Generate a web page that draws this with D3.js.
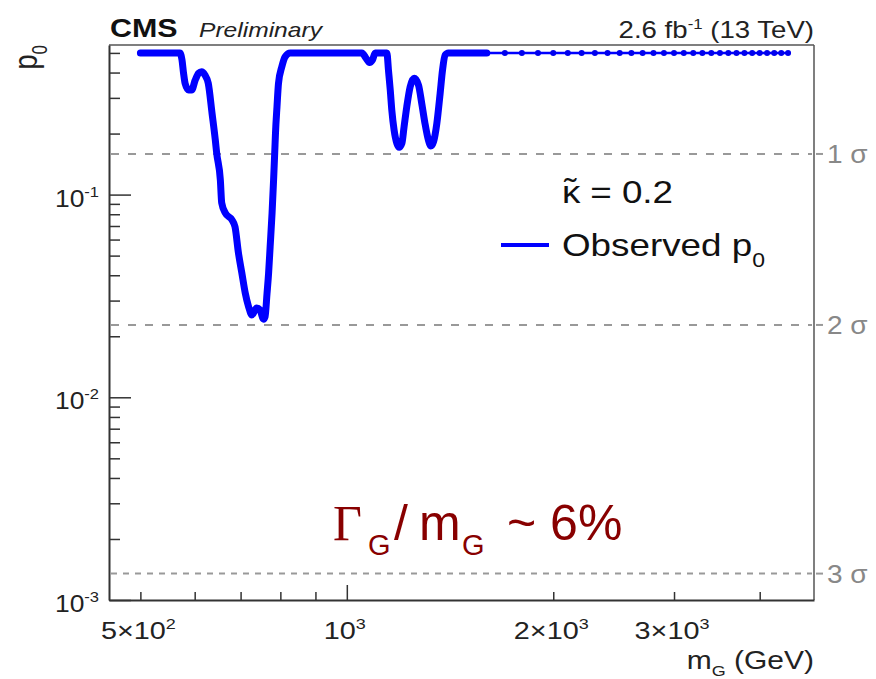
<!DOCTYPE html>
<html>
<head>
<meta charset="utf-8">
<title>p0 scan</title>
<script src="https://d3js.org/d3.v7.min.js"></script>
<style>
  body { margin: 0; background: #fff; }
  svg { display: block; font-family: "Liberation Sans", Arial, sans-serif; }
  .axis path { stroke: #333; stroke-width: 2; }
  .axis line { stroke: #333; stroke-width: 1.5; }
</style>
</head>
<body>
<svg id="chart" width="876" height="679"></svg>
<script>

// -- observed p0, fine mass steps (GeV)
const massFine = [500, 571, 575, 578, 581, 588, 594, 601, 608, 614,
                  621, 628, 636, 643, 646, 654, 657, 665, 680, 687,
                  695, 703, 711, 719, 727, 739, 747, 756, 760, 765,
                  769, 773, 778, 782, 785, 787, 791, 795, 804, 813,
                  827, 1052, 1067, 1079, 1090, 1100, 1144, 1150, 1157, 1163,
                  1172, 1183, 1192, 1203, 1212, 1223, 1237, 1254, 1272, 1286,
                  1300, 1315, 1326, 1338, 1353, 1368, 1379, 1391, 1406, 1600];
const p0Fine   = [0.5, 0.5, 0.461, 0.397, 0.354, 0.328, 0.328, 0.367, 0.397, 0.404,
                  0.389, 0.354, 0.252, 0.186, 0.16, 0.118, 0.091, 0.0811, 0.075, 0.0694,
                  0.0515, 0.041, 0.0327, 0.028, 0.0255, 0.0276, 0.027, 0.0243, 0.025, 0.0326,
                  0.0409, 0.0553, 0.0809, 0.118, 0.161, 0.2007, 0.2715, 0.354, 0.4276, 0.479,
                  0.5, 0.5, 0.47, 0.448, 0.461, 0.5, 0.5, 0.412, 0.328, 0.2615,
                  0.2084, 0.179, 0.1712, 0.179, 0.2163, 0.2715, 0.3406, 0.3748, 0.3473, 0.282,
                  0.2248, 0.186, 0.1737, 0.1824, 0.2248, 0.316, 0.412, 0.488, 0.5, 0.5];

// -- observed p0, 100 GeV steps
const massCoarse = [1600, 1700, 1800, 1900, 2000, 2100, 2200, 2300, 2400, 2500,
                    2600, 2700, 2800, 2900, 3000, 3100, 3200, 3300, 3400, 3500,
                    3600, 3700, 3800, 3900, 4000, 4100, 4200, 4300, 4400];
const p0Coarse   = [0.5, 0.5, 0.5, 0.5, 0.5, 0.5, 0.5, 0.5, 0.5, 0.5,
                    0.5, 0.5, 0.5, 0.5, 0.5, 0.5, 0.5, 0.5, 0.5, 0.5,
                    0.5, 0.5, 0.5, 0.5, 0.5, 0.5, 0.5, 0.5, 0.5];

// -- significance lines
const sigmaP     = [0.158655, 0.02275, 0.0013499];
const sigmaNames = ["1 σ", "2 σ", "3 σ"];

// -- tick labels
const xLabelVals = [500, 1000, 2000, 3000];
const xLabelMant = ["5×10", "10", "2×10", "3×10"];
const xLabelExp  = ["2", "3", "3", "3"];
const yLabelVals = [0.1, 0.01, 0.001];
const yLabelExp  = ["-1", "-2", "-3"];

const svg = d3.select("#chart");
const padLeft = 109, padRight = 814, padTop = 45, padBottom = 600;

const x = d3.scaleLog().domain([450, 4800]).range([padLeft, padRight]);
const y = d3.scaleLog().domain([1e-3, 0.547]).range([padBottom, padTop]);

// texte etire horizontalement (le graphique d'origine est etire)
function stretched(px, py, sx, anchor) {
  return svg.append("text")
    .attr("transform", `translate(${px},${py}) scale(${sx},1)`)
    .attr("text-anchor", anchor || "start");
}

// -- cadre
svg.append("line").attr("x1", padLeft).attr("x2", padRight).attr("y1", padTop).attr("y2", padTop)
  .attr("stroke", "#555").attr("stroke-width", 1.5);
svg.append("line").attr("x1", padRight).attr("x2", padRight).attr("y1", padTop).attr("y2", padBottom)
  .attr("stroke", "#555").attr("stroke-width", 1.5);

// -- lignes de significance
sigmaP.forEach(function(p, i) {
  svg.append("line")
    .attr("x1", padLeft + 2).attr("x2", padRight - 2)
    .attr("y1", y(p)).attr("y2", y(p))
    .attr("stroke", "#999").attr("stroke-width", 2)
    .attr("stroke-dasharray", i < 2 ? "8,9" : "6,6");
  svg.append("line")
    .attr("x1", padRight + 2).attr("x2", padRight + 9)
    .attr("y1", y(p)).attr("y2", y(p))
    .attr("stroke", "#999").attr("stroke-width", 2);
  stretched(padRight + 13, y(p) + 9, 1.12)
    .attr("font-size", 25).attr("fill", "#888")
    .text(sigmaNames[i]);
});

// -- axes
const xTicks = x.ticks();
svg.append("g").attr("class", "axis")
  .attr("transform", `translate(0,${padBottom})`)
  .call(d3.axisBottom(x).tickValues(xTicks.filter(d => d !== 1000))
        .tickSizeInner(-8).tickSizeOuter(0).tickFormat(""));
svg.append("g").attr("class", "axis")
  .attr("transform", `translate(0,${padBottom})`)
  .call(d3.axisBottom(x).tickValues([1000])
        .tickSizeInner(-15).tickSizeOuter(0).tickFormat(""))
  .select(".domain").remove();

const yTicks = y.ticks();
svg.append("g").attr("class", "axis")
  .attr("transform", `translate(${padLeft},0)`)
  .call(d3.axisLeft(y).tickValues(yTicks.filter(d => yLabelVals.indexOf(d) < 0))
        .tickSizeInner(-11).tickSizeOuter(0).tickFormat(""));
svg.append("g").attr("class", "axis")
  .attr("transform", `translate(${padLeft},0)`)
  .call(d3.axisLeft(y).tickValues(yLabelVals)
        .tickSizeInner(-22).tickSizeOuter(0).tickFormat(""))
  .select(".domain").remove();

xLabelVals.forEach(function(v, i) {
  const t = stretched(x(v) - 2, padBottom + 39, 1.2, "middle").attr("font-size", 24).attr("fill", "#222");
  t.append("tspan").text(xLabelMant[i]);
  t.append("tspan").attr("font-size", 15).attr("dy", -10).text(xLabelExp[i]);
});

yLabelVals.forEach(function(v, i) {
  const t = stretched(padLeft - 10, y(v) + 12, 1.1, "end").attr("font-size", 24).attr("fill", "#222");
  t.append("tspan").text("10");
  t.append("tspan").attr("font-size", 15).attr("dy", -10).text(yLabelExp[i]);
});

// -- titres des axes
const xt = stretched(padRight, 669, 1.2, "end").attr("font-size", 25).attr("fill", "#222");
xt.append("tspan").text("m");
xt.append("tspan").attr("font-size", 15).attr("dy", 7).text("G");
xt.append("tspan").attr("dy", -7).text(" (GeV)");

const yt = svg.append("text")
  .attr("transform", `translate(37,${padTop}) scale(1.25,1) rotate(-90)`)
  .attr("text-anchor", "end").attr("font-size", 27).attr("fill", "#222");
yt.append("tspan").text("p");
yt.append("tspan").attr("font-size", 17).attr("dy", 8).text("0");

// -- courbe observee
const line = d3.line()
  .x(d => x(d[0])).y(d => y(d[1]))
  .curve(d3.curveMonotoneX);

const fine = massFine.map((m, i) => [m, p0Fine[i]]);
const coarse = massCoarse.map((m, i) => [m, p0Coarse[i]]);

svg.append("path").datum(coarse)
  .attr("d", line).attr("fill", "none")
  .attr("stroke", "#0000ff").attr("stroke-width", 2.5);
svg.selectAll("circle.pt").data(coarse).enter().append("circle")
  .attr("class", "pt")
  .attr("cx", d => x(d[0])).attr("cy", d => y(d[1]))
  .attr("r", 3).attr("fill", "#0000ee");
svg.append("path").datum(fine)
  .attr("d", line).attr("fill", "none")
  .attr("stroke", "#0000ff").attr("stroke-width", 7)
  .attr("stroke-linejoin", "round").attr("stroke-linecap", "round");

// -- en-tete CMS
stretched(110, 37, 1.17).attr("font-size", 26).attr("font-weight", "bold").attr("fill", "#111").text("CMS");
stretched(199, 37, 1.2).attr("font-size", 20.5).attr("font-style", "italic").attr("fill", "#222").text("Preliminary");
const lumi = stretched(padRight, 38, 1.2, "end").attr("font-size", 23).attr("fill", "#222");
lumi.append("tspan").text("2.6 fb");
lumi.append("tspan").attr("font-size", 14).attr("dy", -9).text("-1");
lumi.append("tspan").attr("dy", 9).text(" (13 TeV)");

// -- legende
const kap = stretched(562, 203, 1.15).attr("font-size", 32).attr("fill", "#111");
kap.append("tspan").text("κ");
kap.append("tspan").attr("dx", -14).attr("dy", -2).text("\u02DC");
kap.append("tspan").attr("dx", 3).attr("dy", 2).text(" = 0.2");

svg.append("line").attr("x1", 501).attr("x2", 549).attr("y1", 245).attr("y2", 245)
  .attr("stroke", "#0000ff").attr("stroke-width", 4);
const obs = stretched(562, 256, 1.15).attr("font-size", 32).attr("fill", "#111");
obs.append("tspan").text("Observed p");
obs.append("tspan").attr("font-size", 20).attr("dy", 11).text("0");

// -- largeur relative
const red = "#880000";
svg.append("text").attr("x", 333).attr("y", 540)
  .attr("font-family", "'Liberation Serif', 'Times New Roman', serif")
  .attr("font-size", 50).attr("fill", red).text("Γ");
svg.append("text").attr("x", 368).attr("y", 555).attr("font-size", 29).attr("fill", red).text("G");
svg.append("text").attr("x", 394).attr("y", 540).attr("font-size", 50).attr("fill", red).text("/");
svg.append("text").attr("x", 419).attr("y", 540).attr("font-size", 50).attr("fill", red).text("m");
svg.append("text").attr("x", 462).attr("y", 555).attr("font-size", 29).attr("fill", red).text("G");
svg.append("text").attr("x", 507).attr("y", 540).attr("font-size", 50).attr("fill", red).text("~ 6%");

</script>
</body>
</html>
